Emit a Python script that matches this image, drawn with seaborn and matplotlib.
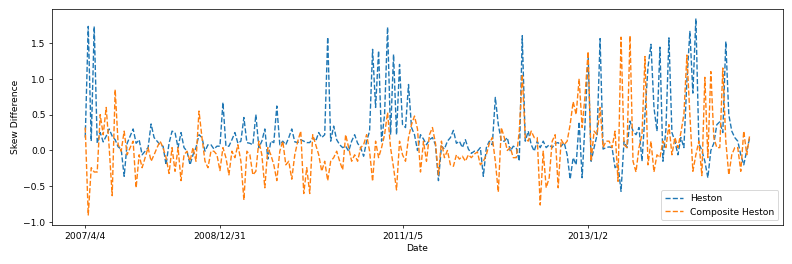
import numpy as np
import pandas as pd
import matplotlib
matplotlib.use("Agg")
import matplotlib.pyplot as plt
import seaborn as sns

# weekly skew difference
heston = [
    0.18, 1.73, 0.13, 1.73, 0.10, 0.25, 0.12, 0.20, 0.30, 0.20,
    0.15, 0.05, 0.02, -0.36, 0.10, 0.20, 0.30, 0.10, 0.15, -0.06,
    -0.01, 0.04, 0.37, 0.18, 0.13, 0.08, 0.06, -0.20, 0.10, 0.27,
    0.25, 0.04, 0.25, 0.04, -0.01, -0.20, -0.06, 0.04, 0.22, 0.18,
    -0.01, 0.08, 0.08, 0.02, 0.06, 0.06, 0.67, 0.06, 0.06, 0.15,
    0.25, 0.10, 0.13, 0.46, 0.11, 0.10, 0.08, 0.50, 0.04, 0.13,
    0.30, -0.12, 0.13, 0.11, 0.62, 0.08, 0.13, 0.08, 0.18, 0.30,
    0.12, 0.11, 0.15, 0.13, 0.11, 0.11, 0.18, 0.13, 0.25, 0.18,
    0.22, 1.58, 0.13, 0.34, 0.15, 0.08, 0.04, 0.06, -0.01, 0.13,
    0.22, 0.10, 0.04, -0.08, 0.13, 0.27, 1.41, 0.60, 1.39, 0.13,
    0.50, 1.72, 0.22, 1.34, 0.22, 1.20, 0.36, 0.32, 0.92, 0.32,
    0.22, 0.00, 0.22, 0.16, 0.08, 0.15, 0.18, 0.08, -0.42, 0.06,
    0.02, 0.13, 0.18, 0.28, 0.10, 0.13, 0.04, 0.15, 0.02, -0.04,
    -0.01, -0.01, 0.04, -0.36, 0.04, 0.13, 0.08, 0.74, 0.36, 0.13,
    0.13, 0.18, -0.01, 0.06, 0.04, -0.15, 1.60, 0.13, 0.27, 0.08,
    -0.01, 0.13, 0.04, 0.13, 0.04, 0.08, 0.04, 0.10, 0.11, 0.06,
    0.11, -0.06, -0.40, -0.10, -0.20, 0.40, -0.38, 0.40, 1.35, -0.15,
    0.04, 0.22, 1.56, 0.02, 0.04, 0.05, 0.04, -0.24, -0.20, -0.57,
    0.13, 0.04, 0.41, 0.27, 0.22, 0.32, -0.15, 0.50, 1.16, 1.48,
    0.60, 0.27, 1.44, -0.15, 0.30, 1.57, 0.25, 0.13, -0.06, 0.18,
    0.04, 0.97, 1.66, 0.80, 1.84, 0.10, 0.00, -0.15, -0.38, 0.00,
    0.10, 0.36, 0.40, 0.25, 1.52, 0.50, 0.27, 0.18, 0.13, -0.06,
    -0.20, 0.00, 0.18,
]

composite_heston = [
    0.32, -0.90, -0.24, -0.30, -0.30, 0.50, 0.22, 0.60, 0.04, -0.63,
    0.85, 0.08, -0.01, 0.27, -0.06, 0.04, 0.13, -0.52, -0.06, -0.24,
    -0.10, 0.04, -0.15, -0.06, 0.04, 0.13, 0.04, -0.10, -0.32, 0.04,
    -0.29, 0.04, -0.42, -0.06, -0.01, -0.15, 0.04, -0.15, 0.55, 0.18,
    -0.15, -0.24, -0.01, -0.01, -0.06, -0.28, 0.04, -0.10, -0.34, -0.01,
    -0.10, 0.08, -0.15, -0.69, -0.01, -0.06, -0.34, -0.29, 0.13, -0.06,
    -0.52, 0.04, -0.06, -0.20, -0.42, -0.01, 0.13, -0.20, -0.15, -0.40,
    -0.06, 0.13, 0.27, -0.60, -0.24, -0.60, 0.22, 0.08, -0.06, -0.29,
    -0.15, -0.42, -0.15, -0.10, -0.01, -0.15, -0.27, 0.22, 0.04, -0.15,
    -0.06, -0.15, 0.04, 0.08, 0.22, -0.01, -0.43, 0.13, -0.10, 0.04,
    0.22, 0.53, 0.04, -0.24, -0.55, 0.13, -0.06, -0.15, 0.18, 0.36,
    0.48, 0.30, -0.30, 0.13, -0.15, 0.22, 0.32, 0.10, -0.34, 0.13,
    -0.10, 0.00, -0.20, -0.22, -0.06, -0.12, -0.08, -0.15, -0.06, -0.10,
    -0.05, -0.02, -0.20, -0.15, -0.06, 0.10, 0.18, -0.15, -0.58, 0.32,
    0.18, 0.00, 0.04, -0.10, -0.10, 0.27, 1.06, 0.18, 0.13, 0.27,
    0.18, 0.18, -0.76, -0.01, -0.52, -0.38, 0.13, 0.22, -0.52, 0.15,
    0.08, 0.13, 0.36, 0.68, 0.50, 1.00, 0.32, 0.78, 1.38, -0.15,
    0.27, 0.22, 0.60, 0.04, 0.13, 0.13, 0.04, 0.27, -0.43, 1.58,
    0.08, 0.04, 1.60, -0.15, -0.30, 0.04, 0.22, 1.31, -0.20, 0.13,
    -0.30, -0.06, -0.10, 0.13, 0.04, 0.36, -0.06, 0.18, 0.04, 0.25,
    0.50, 1.33, 0.50, -0.29, -0.06, 0.13, -0.35, 1.02, -0.10, 1.10,
    0.18, 0.04, 0.04, 1.15, 0.13, -0.34, -0.06, 0.04, 0.04, -0.29,
    0.27, -0.06, 0.22,
]

tick_labels = ["2007/4/4", "2008/12/31", "2011/1/5", "2013/1/2"]
tick_index = [0, 45, 106, 168]

df = pd.DataFrame({
    "step": np.arange(len(heston)),
    "Heston": heston,
    "Composite Heston": composite_heston,
})

fig, ax = plt.subplots(figsize=(12, 4), dpi=66.08)
fig.subplots_adjust(left=0.0656, right=0.9874, top=0.966, bottom=0.148)

sns.lineplot(data=df, x="step", y="Heston", ax=ax, color="#1f77b4",
             linestyle="--", label="Heston")
sns.lineplot(data=df, x="step", y="Composite Heston", ax=ax, color="#ff7f0e",
             linestyle="--", label="Composite Heston")

ax.set_xticks(tick_index)
ax.set_xticklabels(tick_labels)
ax.set_xlabel("Date")
ax.set_ylabel("Skew Difference")
ax.legend(loc="lower right")

fig.savefig("out.png", dpi=66.08)
